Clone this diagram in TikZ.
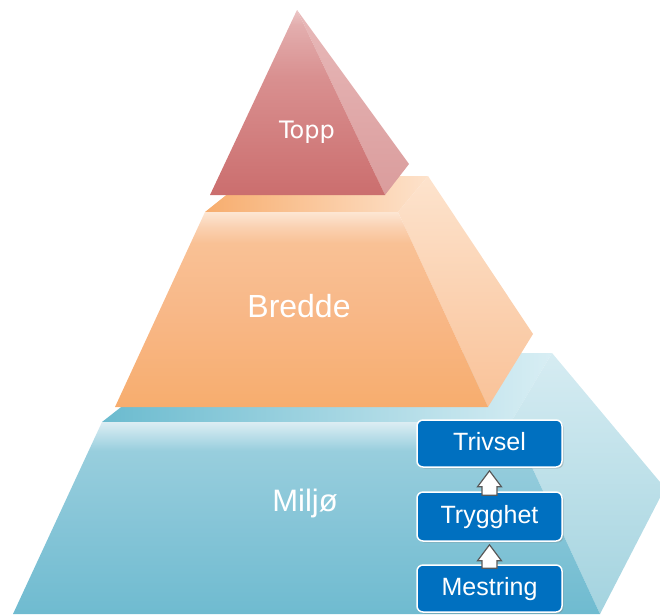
\documentclass[tikz,border=0pt]{standalone}
\usepackage{fontspec}
\setmainfont{Liberation Sans}
\newfontfamily\dejavu{DejaVu Sans}
\usetikzlibrary{calc,shadows}

\definecolor{boxblue}{HTML}{0070C0}
\definecolor{arrgray}{HTML}{5A5A5A}
% Miljo front
\definecolor{mA}{HTML}{DCEDF3}
\definecolor{mB}{HTML}{B7DDE8}
\definecolor{mC}{HTML}{98CEDD}
\definecolor{mD}{HTML}{88C6D8}
\definecolor{mE}{HTML}{6FBBD0}
% Bredde front
\definecolor{bA}{HTML}{FDE6D3}
\definecolor{bB}{HTML}{FAD0B0}
\definecolor{bC}{HTML}{F9C195}
\definecolor{bD}{HTML}{F8B888}
\definecolor{bE}{HTML}{F7AD6E}
% Topp front
\definecolor{tA}{HTML}{ECC6C6}
\definecolor{tB}{HTML}{E3AEAE}
\definecolor{tC}{HTML}{D99090}
\definecolor{tD}{HTML}{CB6E6E}

\pgfdeclareverticalshading{miljofront}{100bp}{color(0bp)=(mE); color(25bp)=(mE); color(51bp)=(mD); color(67.5bp)=(mC); color(71bp)=(mB); color(75bp)=(mA); color(100bp)=(mA)}
\pgfdeclareverticalshading{breddefront}{100bp}{color(0bp)=(bE); color(25bp)=(bE); color(50bp)=(bD); color(67bp)=(bC); color(71bp)=(bB); color(75bp)=(bA); color(100bp)=(bA)}
\pgfdeclareverticalshading{toppfront}{100bp}{color(0bp)=(tD); color(25bp)=(tD); color(57bp)=(tC); color(71bp)=(tB); color(75bp)=(tA); color(100bp)=(tA)}

\tikzset{
  stepbox/.style={rounded corners=6pt, draw=white, line width=1.5pt, fill=boxblue,
    text=white, minimum width=145pt, font=\fontsize{25}{29}\selectfont,
    text height=18pt, text depth=5pt, inner sep=0pt,
    drop shadow={opacity=0.35, shadow xshift=1.5pt, shadow yshift=-1.5pt}},
  blockarr/.style={draw=arrgray, fill=white, line width=1.2pt, line join=miter},
  tierlabel/.style={text=white, anchor=base, inner sep=0pt}
}

\begin{document}
\begin{tikzpicture}[x=1pt, y=-1pt]
\useasboundingbox (0,0) rectangle (660,614);
\clip (0,0) rectangle (660,614);

% ---------- Miljo tier ----------
\shade[left color={rgb,255:red,107;green,187;blue,207}, right color={rgb,255:red,216;green,238;blue,244}]
  (102,422) -- (511,422) -- (552,353) -- (190,353) -- cycle;
\shade[top color={rgb,255:red,214;green,236;blue,242}, bottom color={rgb,255:red,163;green,211;blue,223}]
  (511,422) -- (552,353) -- (665,488) -- (600,614) -- cycle;
\shade[shading=miljofront] (102,422) -- (511,422) -- (600,614) -- (13,614) -- cycle;

% boxes
\node[stepbox, minimum height=47pt] (trivsel) at (489.5,443.5) {Trivsel};
\node[stepbox, minimum height=49pt] (trygghet) at (489.5,516.5) {Trygghet};
\node[stepbox, minimum height=47pt] (mestring) at (489.5,588.5) {Mestring};

% up arrows
\draw[blockarr] ($(trivsel.south)+(0,3)$) -- ++(12,16) -- ++(-4.5,0)
  |- ($(trygghet.north)+(-7.5,4)$) |- ($(trivsel.south)+(-12,19)$) -- cycle;
\draw[blockarr] ($(trygghet.south)+(0,3)$) -- ++(12,16) -- ++(-4.5,0)
  |- ($(mestring.north)+(-7.5,4)$) |- ($(trygghet.south)+(-12,19)$) -- cycle;

% ---------- Bredde tier ----------
\shade[left color={rgb,255:red,247;green,173;blue,110}, right color={rgb,255:red,253;green,226;blue,203}]
  (205,212) -- (398,212) -- (428,176) -- (250,176) -- cycle;
\shade[top color={rgb,255:red,253;green,227;blue,205}, bottom color={rgb,255:red,249;green,194;blue,152}]
  (398,212) -- (428,176) -- (533,334) -- (488,407) -- cycle;
\shade[shading=breddefront] (205,212) -- (398,212) -- (488,407) -- (115,407) -- cycle;

% ---------- Topp tier ----------
\shade[top color={rgb,255:red,232;green,185;blue,185}, bottom color={rgb,255:red,218;green,156;blue,156}]
  (297,10) -- (409,164) -- (385,195) -- cycle;
\shade[shading=toppfront] (297,10) -- (385,195) -- (210,195) -- cycle;

% labels
\node[tierlabel, font=\dejavu\fontsize{24}{28}\selectfont] (topp) at (307,138) {Topp};
\node[tierlabel, font=\fontsize{32}{38}\selectfont] (bredde) at (299,317) {Bredde};
\node[tierlabel, font=\fontsize{31}{36}\selectfont] (miljo) at (305,511) {Miljø};
\end{tikzpicture}
\end{document}
